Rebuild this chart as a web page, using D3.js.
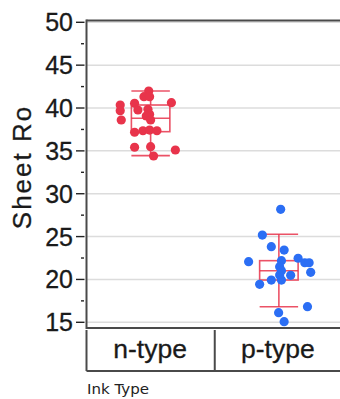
<!DOCTYPE html>
<html><head><meta charset="utf-8">
<script src="https://cdn.jsdelivr.net/npm/d3@7/dist/d3.min.js"></script>
<style>body{margin:0;background:#fff}svg{display:block}</style>
</head><body><svg id="c" width="340" height="399"></svg>
<script>
const categories = ["n-type", "p-type"];
const nValues = [41.98,41.32,41.32,40.62,40.35,40.55,39.69,39.77,39.85,39.27,39.07,38.6,38.6,37.35,37.17,37.43,37.35,35.42,35.49,35.1,34.4];
const nJitter = [-0.015,-0.052,-0.008,0.162,-0.237,-0.125,-0.237,-0.099,-0.021,-0.008,-0.034,-0.229,0.0,-0.06,-0.125,-0.008,0.049,-0.125,0.0,0.193,0.023];
const pValues = [28.18,25.18,23.82,23.43,22.07,22.19,22.47,21.95,21.95,21.49,21.02,20.83,20.48,20.52,19.93,19.93,19.43,16.82,16.12,15.07];
const pJitter = [0.014,-0.129,-0.059,0.041,-0.236,0.02,0.15,0.202,0.236,0.006,0.02,0.248,0.092,0.006,-0.059,0.02,-0.15,0.223,-0.002,0.041];
// box stats: [whiskerLow, q1, median, q3, whiskerHigh]
const nBox = [34.44,37.24,38.8,40.35,41.98];
const pBox = [16.82,19.93,21.02,22.19,25.27];
const yTicks = [15,20,25,30,35,40,45,50];
const yMinor = [17.5,22.5,27.5,32.5,37.5,42.5,47.5];

const svg = d3.select("#c");
const L = 86.5, R = 343, T = 20.5, B = 328;
const y = d3.scaleLinear().domain([15,50]).range([322.3,22.3]);
const x = d3.scaleBand().domain(categories).range([L,R]);
const red = "#e8344b", blue = "#2b6ef4";
const font = "Liberation Sans, Arial, sans-serif";

svg.append("g").selectAll("line").data(yTicks).join("line")
  .attr("x1",L).attr("x2",R).attr("y1",d=>y(d)).attr("y2",d=>y(d))
  .attr("stroke","#dcdcdc").attr("stroke-width",1.5);

svg.append("line").attr("x1",L).attr("x2",R).attr("y1",T).attr("y2",T).attr("stroke","#4a4a4a").attr("stroke-width",2);
svg.append("line").attr("x1",L).attr("x2",R).attr("y1",B).attr("y2",B).attr("stroke","#4a4a4a").attr("stroke-width",2);
svg.append("line").attr("x1",L).attr("x2",L).attr("y1",T-1).attr("y2",B+1).attr("stroke","#4a4a4a").attr("stroke-width",2);

const ya = svg.append("g");
ya.selectAll(".maj").data(yTicks).join("line").attr("class","maj")
  .attr("x1",76).attr("x2",84.5).attr("y1",d=>y(d)).attr("y2",d=>y(d))
  .attr("stroke","#222").attr("stroke-width",1.4);
ya.selectAll(".min").data(yMinor).join("line").attr("class","min")
  .attr("x1",81).attr("x2",84).attr("y1",d=>y(d)).attr("y2",d=>y(d))
  .attr("stroke","#222").attr("stroke-width",1.4);
ya.selectAll("text").data(yTicks).join("text")
  .attr("x",73).attr("y",d=>y(d)).attr("dy","0.36em").attr("text-anchor","end")
  .attr("font-family",font).attr("font-size",25).attr("fill","#1a1a1a")
  .attr("stroke","#1a1a1a").attr("stroke-width",0.3)
  .text(d=>d);
svg.append("text").attr("transform","translate(31,167) rotate(-90)").attr("text-anchor","middle")
  .attr("font-family",font).attr("font-size",26).attr("fill","#1a1a1a")
  .attr("stroke","#1a1a1a").attr("stroke-width",0.3)
  .attr("letter-spacing",2)
  .text("Sheet Ro");

const cs = svg.append("g");
const sT = 330, sB = 371;
cs.append("line").attr("x1",L).attr("x2",R).attr("y1",sB).attr("y2",sB).attr("stroke","#4a4a4a").attr("stroke-width",2);
cs.selectAll(".sep").data(categories).join("line").attr("class","sep")
  .attr("x1",d=>x(d)).attr("x2",d=>x(d)).attr("y1",sT).attr("y2",sB).attr("stroke","#4a4a4a").attr("stroke-width",2);
cs.selectAll("text").data(categories).join("text")
  .attr("x",(d,i)=>x(d)+x.bandwidth()/2 - (i===0?0.5:1)).attr("y",358).attr("text-anchor","middle")
  .attr("font-family",font).attr("font-size",26.5).attr("fill","#1a1a1a")
  .attr("stroke","#1a1a1a").attr("stroke-width",0.3)
  .text(d=>d);
svg.append("text").attr("x",87).attr("y",394)
  .attr("font-family","DejaVu Sans, sans-serif").attr("font-size",13.5).attr("fill","#222")
  .attr("textLength",62).attr("lengthAdjust","spacingAndGlyphs")
  .text("Ink Type");

const groups = [
  {cat:"n-type", vals:nValues, jit:nJitter, box:nBox, col:red},
  {cat:"p-type", vals:pValues, jit:pJitter, box:pBox, col:blue}
];
const bw = x.bandwidth()*0.3;
groups.forEach(g=>{
  const cx = x(g.cat)+x.bandwidth()/2;
  const gb = svg.append("g").attr("stroke",red).attr("stroke-width",1.6).attr("fill","none").attr("stroke-opacity",0.85);
  gb.append("line").attr("x1",cx).attr("x2",cx).attr("y1",y(g.box[0])).attr("y2",y(g.box[1]));
  gb.append("line").attr("x1",cx).attr("x2",cx).attr("y1",y(g.box[3])).attr("y2",y(g.box[4]));
  gb.append("line").attr("x1",cx-bw/2).attr("x2",cx+bw/2).attr("y1",y(g.box[0])).attr("y2",y(g.box[0]));
  gb.append("line").attr("x1",cx-bw/2).attr("x2",cx+bw/2).attr("y1",y(g.box[4])).attr("y2",y(g.box[4]));
  gb.append("rect").attr("x",cx-bw/2).attr("width",bw).attr("y",y(g.box[3])).attr("height",y(g.box[1])-y(g.box[3]));
  gb.append("line").attr("x1",cx-bw/2).attr("x2",cx+bw/2).attr("y1",y(g.box[2])).attr("y2",y(g.box[2]));
  svg.append("g").selectAll("circle").data(g.vals).join("circle")
    .attr("cx",(d,i)=>cx+g.jit[i]*x.bandwidth()).attr("cy",d=>y(d)).attr("r",4.6)
    .attr("fill",g.col);
});
</script></body></html>
